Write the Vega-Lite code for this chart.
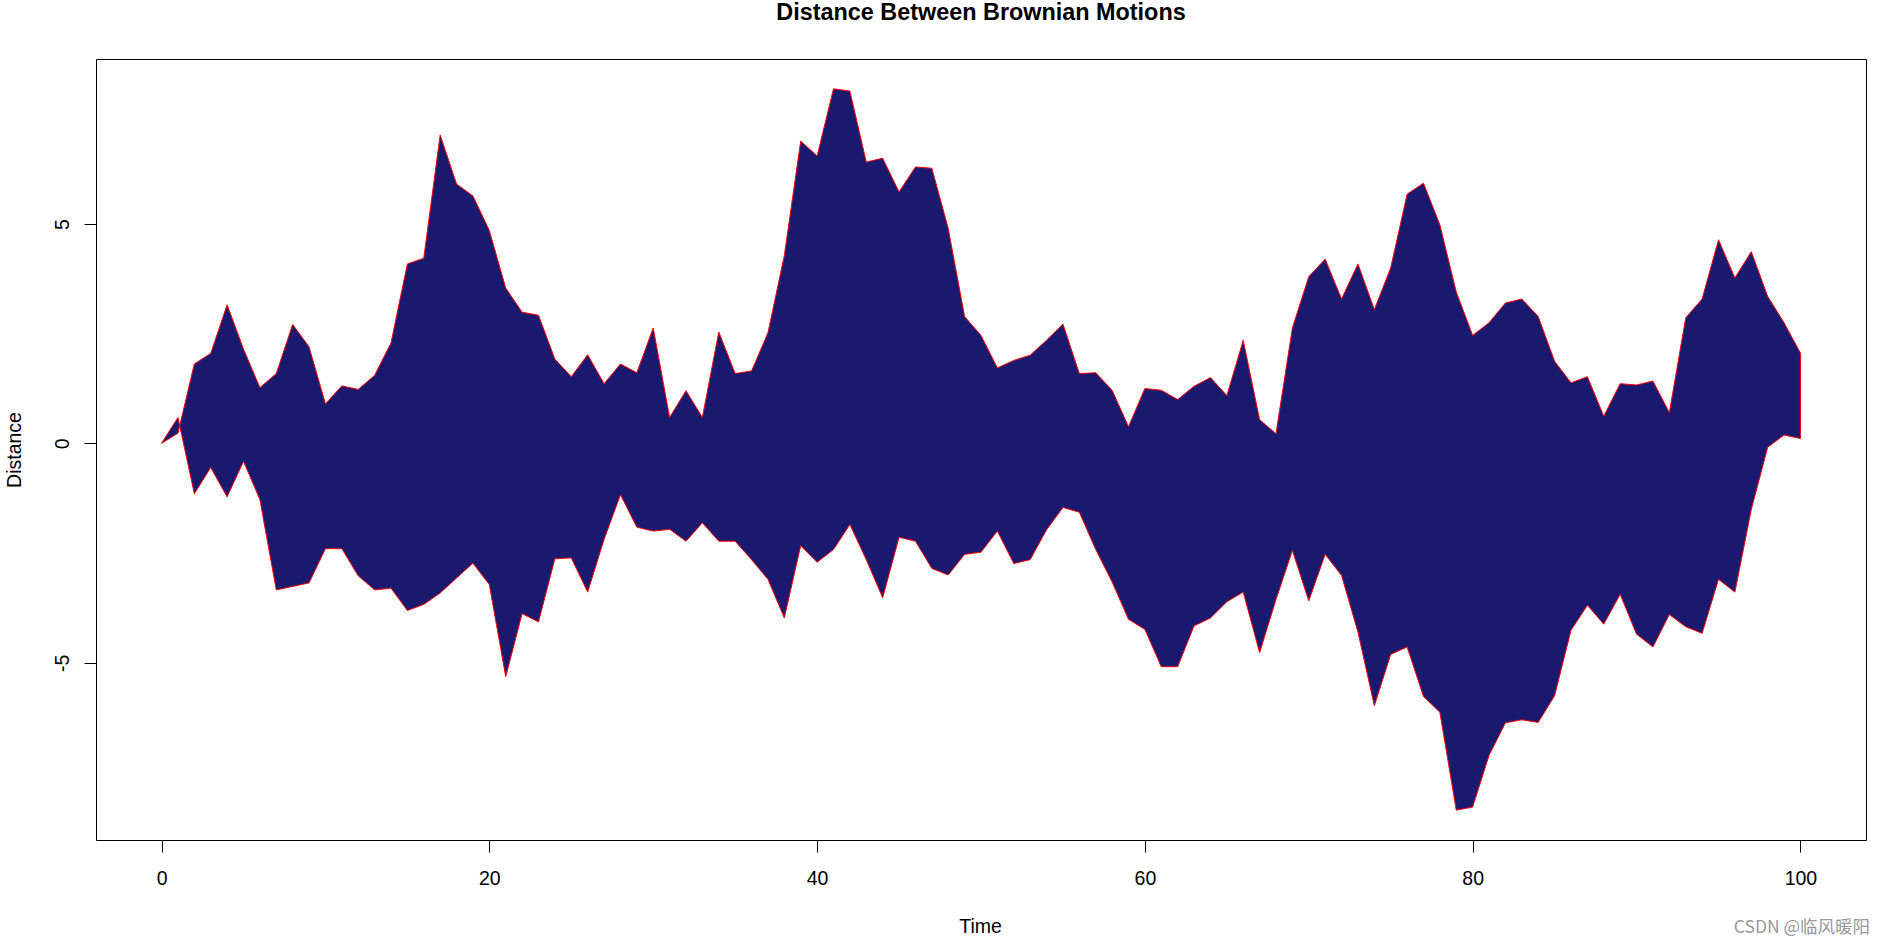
{
  "$schema": "https://vega.github.io/schema/vega-lite/v6.json",
  "width": 1770,
  "height": 781,
  "autosize": {"type": "none"},
  "padding": {"left": 96, "top": 59, "right": 18, "bottom": 103},
  "background": "white",
  "title": {
    "text": "Distance Between Brownian Motions",
    "font": "Liberation Sans",
    "fontSize": 23.4,
    "fontWeight": "bold",
    "color": "black",
    "anchor": "middle",
    "frame": "group",
    "baseline": "alphabetic",
    "offset": 15.5
  },
  "config": {
    "view": {"stroke": "black", "strokeWidth": 1},
    "axis": {
      "domain": false,
      "grid": false,
      "tickColor": "black",
      "tickSize": 12,
      "tickWidth": 1,
      "labelFont": "Liberation Sans",
      "labelFontSize": 19.5,
      "labelColor": "black",
      "labelOverlap": false,
      "labelFlush": false,
      "titleFont": "Liberation Sans",
      "titleFontSize": 19.5,
      "titleFontWeight": "normal",
      "titleColor": "black"
    }
  },
  "datasets": {
    "motions": [
      {"time": 0, "bm1": 0, "bm2": 0},
      {"time": 1, "bm1": 0.59, "bm2": 0.23},
      {"time": 2, "bm1": -1.15, "bm2": 1.81},
      {"time": 3, "bm1": -0.55, "bm2": 2.05},
      {"time": 4, "bm1": -1.22, "bm2": 3.16},
      {"time": 5, "bm1": -0.41, "bm2": 2.15},
      {"time": 6, "bm1": -1.28, "bm2": 1.27},
      {"time": 7, "bm1": -3.34, "bm2": 1.59},
      {"time": 8, "bm1": -3.26, "bm2": 2.71},
      {"time": 9, "bm1": -3.18, "bm2": 2.2},
      {"time": 10, "bm1": -2.4, "bm2": 0.9},
      {"time": 11, "bm1": -2.4, "bm2": 1.31},
      {"time": 12, "bm1": -3.02, "bm2": 1.23},
      {"time": 13, "bm1": -3.34, "bm2": 1.55},
      {"time": 14, "bm1": -3.3, "bm2": 2.29},
      {"time": 15, "bm1": -3.81, "bm2": 4.09},
      {"time": 16, "bm1": -3.67, "bm2": 4.22},
      {"time": 17, "bm1": -3.41, "bm2": 7.03},
      {"time": 18, "bm1": -3.07, "bm2": 5.91},
      {"time": 19, "bm1": -2.73, "bm2": 5.64},
      {"time": 20, "bm1": -3.22, "bm2": 4.85},
      {"time": 21, "bm1": -5.32, "bm2": 3.54},
      {"time": 22, "bm1": -3.88, "bm2": 2.99},
      {"time": 23, "bm1": -4.07, "bm2": 2.92},
      {"time": 24, "bm1": -2.63, "bm2": 1.92},
      {"time": 25, "bm1": -2.61, "bm2": 1.52},
      {"time": 26, "bm1": -3.39, "bm2": 2.02},
      {"time": 27, "bm1": -2.19, "bm2": 1.36},
      {"time": 28, "bm1": -1.17, "bm2": 1.81},
      {"time": 29, "bm1": -1.91, "bm2": 1.61},
      {"time": 30, "bm1": -2.0, "bm2": 2.63},
      {"time": 31, "bm1": -1.96, "bm2": 0.59},
      {"time": 32, "bm1": -2.23, "bm2": 1.2},
      {"time": 33, "bm1": -1.81, "bm2": 0.59},
      {"time": 34, "bm1": -2.23, "bm2": 2.54},
      {"time": 35, "bm1": -2.23, "bm2": 1.59},
      {"time": 36, "bm1": -2.65, "bm2": 1.65},
      {"time": 37, "bm1": -3.1, "bm2": 2.52},
      {"time": 38, "bm1": -3.98, "bm2": 4.28},
      {"time": 39, "bm1": -2.33, "bm2": 6.89},
      {"time": 40, "bm1": -2.71, "bm2": 6.55},
      {"time": 41, "bm1": -2.42, "bm2": 8.08},
      {"time": 42, "bm1": -1.85, "bm2": 8.03},
      {"time": 43, "bm1": -2.65, "bm2": 6.41},
      {"time": 44, "bm1": -3.52, "bm2": 6.5},
      {"time": 45, "bm1": -2.14, "bm2": 5.73},
      {"time": 46, "bm1": -2.23, "bm2": 6.3},
      {"time": 47, "bm1": -2.85, "bm2": 6.27},
      {"time": 48, "bm1": -3.0, "bm2": 4.9},
      {"time": 49, "bm1": -2.53, "bm2": 2.89},
      {"time": 50, "bm1": -2.48, "bm2": 2.46},
      {"time": 51, "bm1": -2.0, "bm2": 1.72},
      {"time": 52, "bm1": -2.74, "bm2": 1.89},
      {"time": 53, "bm1": -2.65, "bm2": 2.01},
      {"time": 54, "bm1": -1.97, "bm2": 2.35},
      {"time": 55, "bm1": -1.46, "bm2": 2.72},
      {"time": 56, "bm1": -1.57, "bm2": 1.59},
      {"time": 57, "bm1": -2.42, "bm2": 1.61},
      {"time": 58, "bm1": -3.16, "bm2": 1.21},
      {"time": 59, "bm1": -4.01, "bm2": 0.38},
      {"time": 60, "bm1": -4.24, "bm2": 1.25},
      {"time": 61, "bm1": -5.09, "bm2": 1.21},
      {"time": 62, "bm1": -5.09, "bm2": 1.0},
      {"time": 63, "bm1": -4.16, "bm2": 1.3},
      {"time": 64, "bm1": -3.98, "bm2": 1.5},
      {"time": 65, "bm1": -3.61, "bm2": 1.09},
      {"time": 66, "bm1": -3.39, "bm2": 2.35},
      {"time": 67, "bm1": -4.77, "bm2": 0.54},
      {"time": 68, "bm1": -3.56, "bm2": 0.22},
      {"time": 69, "bm1": -2.44, "bm2": 2.63},
      {"time": 70, "bm1": -3.59, "bm2": 3.8},
      {"time": 71, "bm1": -2.53, "bm2": 4.2},
      {"time": 72, "bm1": -3.01, "bm2": 3.29},
      {"time": 73, "bm1": -4.3, "bm2": 4.09},
      {"time": 74, "bm1": -5.98, "bm2": 3.05},
      {"time": 75, "bm1": -4.81, "bm2": 4.0},
      {"time": 76, "bm1": -4.64, "bm2": 5.68},
      {"time": 77, "bm1": -5.77, "bm2": 5.93},
      {"time": 78, "bm1": -6.13, "bm2": 4.98},
      {"time": 79, "bm1": -8.36, "bm2": 3.45},
      {"time": 80, "bm1": -8.29, "bm2": 2.46},
      {"time": 81, "bm1": -7.11, "bm2": 2.75},
      {"time": 82, "bm1": -6.37, "bm2": 3.2},
      {"time": 83, "bm1": -6.3, "bm2": 3.29},
      {"time": 84, "bm1": -6.36, "bm2": 2.89},
      {"time": 85, "bm1": -5.75, "bm2": 1.87},
      {"time": 86, "bm1": -4.26, "bm2": 1.38},
      {"time": 87, "bm1": -3.69, "bm2": 1.52},
      {"time": 88, "bm1": -4.12, "bm2": 0.62},
      {"time": 89, "bm1": -3.44, "bm2": 1.36},
      {"time": 90, "bm1": -4.35, "bm2": 1.33},
      {"time": 91, "bm1": -4.64, "bm2": 1.42},
      {"time": 92, "bm1": -3.9, "bm2": 0.7},
      {"time": 93, "bm1": -4.18, "bm2": 2.86},
      {"time": 94, "bm1": -4.33, "bm2": 3.29},
      {"time": 95, "bm1": -3.1, "bm2": 4.64},
      {"time": 96, "bm1": -3.39, "bm2": 3.77},
      {"time": 97, "bm1": -1.51, "bm2": 4.37},
      {"time": 98, "bm1": -0.09, "bm2": 3.35},
      {"time": 99, "bm1": 0.19, "bm2": 2.75},
      {"time": 100, "bm1": 0.11, "bm2": 2.06}
    ],
    "watermark": [{"note": "CSDN @临风暖阳"}]
  },
  "layer": [
    {
      "data": {"name": "motions"},
      "mark": {"type": "area", "color": "#191970", "opacity": 1},
      "encoding": {
        "x": {
          "field": "time",
          "type": "quantitative",
          "scale": {"domain": [-4, 104], "nice": false, "zero": false},
          "axis": {
            "title": "Time",
            "values": [0, 20, 40, 60, 80, 100],
            "labelBaseline": "alphabetic",
            "labelPadding": 32,
            "titleBaseline": "alphabetic",
            "titleAlign": "center",
            "titleX": 884,
            "titleY": 92
          }
        },
        "y": {
          "field": "bm2",
          "type": "quantitative",
          "scale": {"domain": [-9.04, 8.76], "nice": false, "zero": false},
          "axis": {
            "title": "Distance",
            "values": [-5, 0, 5],
            "labelExpr": "replace(datum.label, '−', '-')",
            "labelAngle": -90,
            "labelAlign": "center",
            "labelBaseline": "alphabetic",
            "labelPadding": 16,
            "titleAngle": -90,
            "titleAlign": "center",
            "titleBaseline": "alphabetic",
            "titleX": -76,
            "titleY": 390.5
          }
        },
        "y2": {"field": "bm1"}
      }
    },
    {
      "data": {"name": "motions"},
      "mark": {"type": "line", "color": "#ff0000", "strokeWidth": 1},
      "encoding": {
        "x": {"field": "time", "type": "quantitative"},
        "y": {"field": "bm1", "type": "quantitative"}
      }
    },
    {
      "data": {"name": "motions"},
      "mark": {"type": "line", "color": "#ff0000", "strokeWidth": 1},
      "encoding": {
        "x": {"field": "time", "type": "quantitative"},
        "y": {"field": "bm2", "type": "quantitative"}
      }
    },
    {
      "data": {"name": "motions"},
      "transform": [{"filter": "datum.time == 100"}],
      "mark": {"type": "rule", "color": "#ff0000", "strokeWidth": 1},
      "encoding": {
        "x": {"field": "time", "type": "quantitative"},
        "y": {"field": "bm1", "type": "quantitative"},
        "y2": {"field": "bm2"}
      }
    },
    {
      "data": {"name": "watermark"},
      "mark": {"type": "text", "align": "right", "baseline": "alphabetic", "clip": false, "color": "#999999", "fontSize": 17.5, "font": "Noto Sans CJK SC"},
      "encoding": {
        "text": {"field": "note", "type": "nominal"},
        "x": {"datum": 104.25, "type": "quantitative"},
        "y": {"datum": -11.15, "type": "quantitative"}
      }
    }
  ]
}
